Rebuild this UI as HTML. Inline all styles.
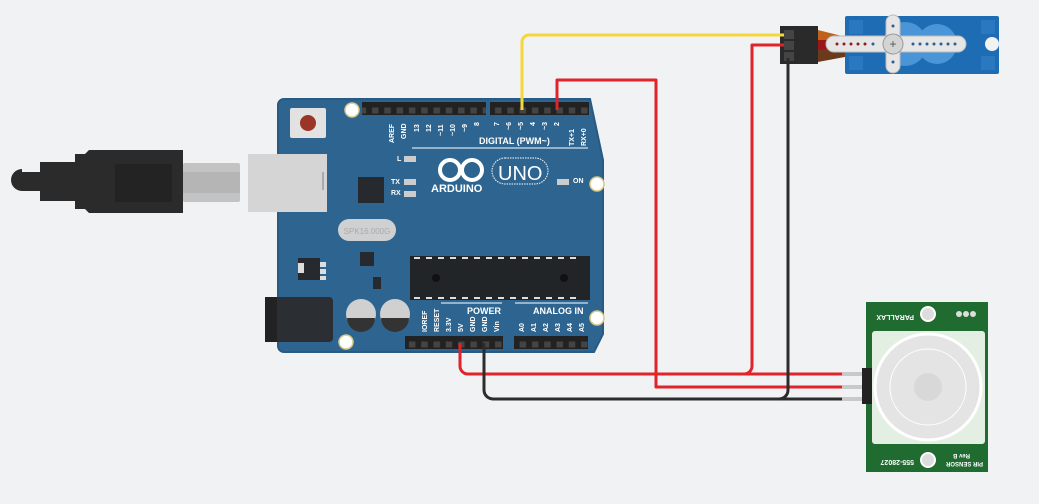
<!DOCTYPE html>
<html><head><meta charset="utf-8"><style>body{margin:0;background:#f1f2f4;}svg{display:block}</style></head>
<body>
<svg width="1039" height="504" viewBox="0 0 1039 504" xmlns="http://www.w3.org/2000/svg" font-family="Liberation Sans, sans-serif">
<defs>
<pattern id="pins" x="0" y="0" width="12.3" height="13" patternUnits="userSpaceOnUse"><rect x="3" y="3.5" width="6.5" height="6" fill="#444"/></pattern>
</defs>
<rect width="1039" height="504" fill="#f1f2f4"/>
<!-- USB cable -->
<path d="M22,172 h18 v-10 h35 v-8 h10 l4,-4 h94 v63 h-94 l-4,-4 h-10 v-8 h-35 v-10 h-18 a11,11 0 0 1 0,-22z" fill="#2b2b2b"/>
<rect x="115" y="164" width="57" height="38" fill="#232323"/>
<rect x="183" y="163" width="57" height="39" rx="2" fill="#c3c3c3"/>
<rect x="183" y="172" width="57" height="21" fill="#b5b5b5"/>
<!-- Board -->
<path d="M284,99 H590 L603,160 V334 L594,352 H284 a6,6 0 0 1 -6,-6 V105 a6,6 0 0 1 6,-6z" fill="#2d6590" stroke="#285a82" stroke-width="2"/>
<rect x="248" y="154" width="79" height="58" fill="#d5d5d5"/>
<rect x="322" y="172" width="2" height="18" fill="#aaa"/>
<rect x="290" y="108" width="36" height="30" rx="2" fill="#e2e2e2"/>
<circle cx="308" cy="123" r="8" fill="#9b3526"/>
<rect x="265" y="297" width="68" height="45" rx="4" fill="#2b2e33"/>
<rect x="265" y="297" width="12" height="45" fill="#222"/>
<rect x="358" y="177" width="26" height="26" fill="#262a2e"/>
<rect x="338" y="219" width="58" height="22" rx="11" fill="#cfd0d1"/>
<text x="367" y="234" font-size="8" fill="#aaa" text-anchor="middle">SPK16.000G</text>
<rect x="360" y="252" width="14" height="14" fill="#262a2e"/>
<rect x="298" y="258" width="22" height="22" fill="#262a2e"/>
<rect x="298" y="263" width="6" height="10" fill="#ddd"/>
<rect x="320" y="262" width="6" height="5" fill="#ddd"/><rect x="320" y="269" width="6" height="5" fill="#ddd"/><rect x="320" y="276" width="6" height="4" fill="#ddd"/>
<rect x="373" y="277" width="8" height="12" fill="#262a2e"/>
<circle cx="361" cy="314" r="15" fill="#d0d0d0"/><path d="M347,318 h28 a14,14 0 0 1 -28,0z" fill="#333"/>
<circle cx="395" cy="314" r="15" fill="#d0d0d0"/><path d="M381,318 h28 a14,14 0 0 1 -28,0z" fill="#333"/>
<rect x="410" y="256" width="180" height="44" fill="#222528"/>
<g fill="#ddd"><rect x="414" y="257" width="6" height="2"/><rect x="426" y="257" width="6" height="2"/><rect x="438" y="257" width="6" height="2"/><rect x="450" y="257" width="6" height="2"/><rect x="462" y="257" width="6" height="2"/><rect x="474" y="257" width="6" height="2"/><rect x="486" y="257" width="6" height="2"/><rect x="498" y="257" width="6" height="2"/><rect x="510" y="257" width="6" height="2"/><rect x="522" y="257" width="6" height="2"/><rect x="534" y="257" width="6" height="2"/><rect x="546" y="257" width="6" height="2"/><rect x="558" y="257" width="6" height="2"/><rect x="570" y="257" width="6" height="2"/>
<rect x="414" y="297" width="6" height="2"/><rect x="426" y="297" width="6" height="2"/><rect x="438" y="297" width="6" height="2"/><rect x="450" y="297" width="6" height="2"/><rect x="462" y="297" width="6" height="2"/><rect x="474" y="297" width="6" height="2"/><rect x="486" y="297" width="6" height="2"/><rect x="498" y="297" width="6" height="2"/><rect x="510" y="297" width="6" height="2"/><rect x="522" y="297" width="6" height="2"/><rect x="534" y="297" width="6" height="2"/><rect x="546" y="297" width="6" height="2"/><rect x="558" y="297" width="6" height="2"/><rect x="570" y="297" width="6" height="2"/></g>
<circle cx="436" cy="278" r="4" fill="#111"/><circle cx="564" cy="278" r="4" fill="#111"/>
<!-- headers -->
<rect x="362" y="102" width="124" height="13" fill="#222"/><rect x="362" y="102" width="124" height="13" fill="url(#pins)"/>
<rect x="490" y="102" width="99" height="13" fill="#222"/><rect x="490" y="102" width="99" height="13" fill="url(#pins)"/>
<rect x="405" y="336" width="98" height="13" fill="#222"/><rect x="405" y="336" width="98" height="13" fill="url(#pins)"/>
<rect x="514" y="336" width="74" height="13" fill="#222"/><rect x="514" y="336" width="74" height="13" fill="url(#pins)"/>
<!-- holes -->
<g fill="#fff" stroke="#d8c98a" stroke-width="1.5"><circle cx="352" cy="110" r="7"/><circle cx="597" cy="184" r="7"/><circle cx="597" cy="318" r="7"/><circle cx="346" cy="342" r="7"/></g>
<!-- labels -->
<g fill="#fff" font-size="8" font-weight="bold">
<text x="479" y="144" font-size="9">DIGITAL (PWM~)</text>
<text x="467" y="314" font-size="9">POWER</text>
<text x="533" y="314" font-size="9">ANALOG IN</text>
<text x="431" y="192" font-size="11">ARDUINO</text>
<text x="498" y="180" font-size="20" font-weight="normal">UNO</text>
<text x="397" y="161" font-size="7">L</text><text x="391" y="184" font-size="7">TX</text><text x="391" y="195" font-size="7">RX</text>
<text x="573" y="183" font-size="7">ON</text>
</g>
<rect x="492" y="158" width="56" height="26" rx="13" fill="none" stroke="#fff" stroke-dasharray="1.5,1"/>
<circle cx="450" cy="170" r="10" fill="none" stroke="#fff" stroke-width="4"/><circle cx="472" cy="170" r="10" fill="none" stroke="#fff" stroke-width="4"/>
<g fill="#ccc"><rect x="404" y="156" width="12" height="6"/><rect x="404" y="179" width="12" height="6"/><rect x="404" y="191" width="12" height="6"/><rect x="557" y="179" width="12" height="6"/></g>
<line x1="412" y1="148" x2="588" y2="148" stroke="#fff"/>
<line x1="441" y1="303" x2="502" y2="303" stroke="#fff"/>
<line x1="515" y1="303" x2="588" y2="303" stroke="#fff"/>
<g fill="#fff" font-size="7" font-weight="bold">
<text transform="translate(394,143) rotate(-90)">AREF</text><text transform="translate(406,139) rotate(-90)">GND</text>
<text transform="translate(419,132) rotate(-90)">13</text><text transform="translate(431,132) rotate(-90)">12</text><text transform="translate(443,136) rotate(-90)">~11</text><text transform="translate(455,136) rotate(-90)">~10</text><text transform="translate(467,132) rotate(-90)">~9</text><text transform="translate(479,126) rotate(-90)">8</text>
<text transform="translate(499,126) rotate(-90)">7</text><text transform="translate(511,130) rotate(-90)">~6</text><text transform="translate(523,130) rotate(-90)">~5</text><text transform="translate(535,126) rotate(-90)">4</text><text transform="translate(547,130) rotate(-90)">~3</text><text transform="translate(559,126) rotate(-90)">2</text><text transform="translate(574,146) rotate(-90)">TX+1</text><text transform="translate(586,146) rotate(-90)">RX+0</text>
<text transform="translate(427,332) rotate(-90)">IOREF</text><text transform="translate(439,332) rotate(-90)">RESET</text><text transform="translate(451,332) rotate(-90)">3.3V</text><text transform="translate(463,332) rotate(-90)">5V</text><text transform="translate(475,332) rotate(-90)">GND</text><text transform="translate(487,332) rotate(-90)">GND</text><text transform="translate(499,332) rotate(-90)">Vin</text>
<text transform="translate(524,332) rotate(-90)">A0</text><text transform="translate(536,332) rotate(-90)">A1</text><text transform="translate(548,332) rotate(-90)">A2</text><text transform="translate(560,332) rotate(-90)">A3</text><text transform="translate(572,332) rotate(-90)">A4</text><text transform="translate(584,332) rotate(-90)">A5</text>
</g>
<!-- servo -->
<path d="M818,30 L850,38 V50 L818,44z" fill="#c0601d"/>
<path d="M818,40 L850,40 V52 L818,52z" fill="#9b1717"/>
<path d="M818,50 L850,46 V56 L818,62z" fill="#6b3a1c"/>
<rect x="845" y="16" width="154" height="58" rx="2" fill="#1e6cb3"/>
<g fill="#2a78c0"><rect x="849" y="20" width="14" height="14"/><rect x="849" y="56" width="14" height="14"/><rect x="981" y="20" width="14" height="14"/><rect x="981" y="56" width="14" height="14"/></g>
<circle cx="905" cy="44" r="22" fill="#4a94d8"/><circle cx="937" cy="44" r="20" fill="#4a94d8"/>
<circle cx="992" cy="44" r="7" fill="#f1f2f4"/>
<path d="M826,44 a8,8 0 0 1 8,-8 H886 V22 a7,7 0 0 1 14,0 V36 H958 a8,8 0 0 1 0,16 H900 V66 a7,7 0 0 1 -14,0 V52 H834 a8,8 0 0 1 -8,-8z" fill="#e6e6e6" stroke="#bbb"/>
<circle cx="893" cy="44" r="10" fill="#d4d4d4" stroke="#999"/>
<text x="893" y="48" font-size="12" text-anchor="middle" fill="#555">+</text>
<g fill="#8b1d1d"><circle cx="837" cy="44" r="1.5"/><circle cx="844" cy="44" r="1.5"/><circle cx="851" cy="44" r="1.5"/><circle cx="858" cy="44" r="1.5"/><circle cx="865" cy="44" r="1.5"/></g>
<g fill="#2a5e95"><circle cx="873" cy="44" r="1.5"/><circle cx="913" cy="44" r="1.5"/><circle cx="920" cy="44" r="1.5"/><circle cx="927" cy="44" r="1.5"/><circle cx="934" cy="44" r="1.5"/><circle cx="941" cy="44" r="1.5"/><circle cx="948" cy="44" r="1.5"/><circle cx="955" cy="44" r="1.5"/><circle cx="893" cy="26" r="1.5"/><circle cx="893" cy="62" r="1.5"/></g>
<rect x="780" y="26" width="38" height="38" fill="#2a2a2a"/>
<g fill="#444"><rect x="784" y="30" width="10" height="9"/><rect x="784" y="41" width="10" height="9"/><rect x="784" y="52" width="10" height="9"/></g>
<!-- PIR -->
<rect x="866" y="302" width="122" height="170" fill="#1f6b30"/>
<rect x="872" y="331" width="113" height="113" rx="3" fill="#e3efe3"/>
<circle cx="928" cy="387" r="53" fill="#e4e4e4" stroke="#fff" stroke-width="3"/>
<circle cx="928" cy="387" r="38" fill="none" stroke="#fff"/>
<circle cx="928" cy="387" r="14" fill="#d8d8d8"/>
<circle cx="928" cy="314" r="7" fill="#ddd" stroke="#fff" stroke-width="2"/>
<circle cx="928" cy="460" r="7" fill="#ddd" stroke="#fff" stroke-width="2"/>
<g fill="#ddd"><circle cx="959" cy="314" r="3"/><circle cx="966" cy="314" r="3"/><circle cx="973" cy="314" r="3"/></g>
<text transform="translate(914,315) rotate(180)" font-size="7" fill="#fff" font-weight="bold">PARALLAX</text>
<text transform="translate(914,460) rotate(180)" font-size="7" fill="#fff" font-weight="bold">555-28027</text>
<text transform="translate(983,462) rotate(180)" font-size="6" fill="#fff" font-weight="bold">PIR SENSOR</text>
<text transform="translate(970,454) rotate(180)" font-size="6" fill="#fff" font-weight="bold">Rev B</text>
<g fill="#c9c9c9"><rect x="842" y="372" width="24" height="4"/><rect x="842" y="385" width="24" height="4"/><rect x="842" y="397" width="24" height="4"/></g>
<rect x="862" y="368" width="10" height="36" fill="#222"/>
<!-- wires -->
<g fill="none" stroke-width="3" stroke-linejoin="round">
<path d="M522,110 V42 a7,7 0 0 1 7,-7 H784" stroke="#f6d73a"/>
<path d="M557,110 V80 H656 V387 H842" stroke="#e0242a"/>
<path d="M460,343 V366 a8,8 0 0 0 8,8 H842" stroke="#e0242a"/>
<path d="M784,45 H752 V366 a8,8 0 0 1 -8,8" stroke="#e0242a"/>
<path d="M484,343 V390 a9,9 0 0 0 9,9 H842" stroke="#2c2c2e"/>
<path d="M788,58 V390 a9,9 0 0 1 -9,9" stroke="#2c2c2e"/>
</g>
</svg>
</body></html>
